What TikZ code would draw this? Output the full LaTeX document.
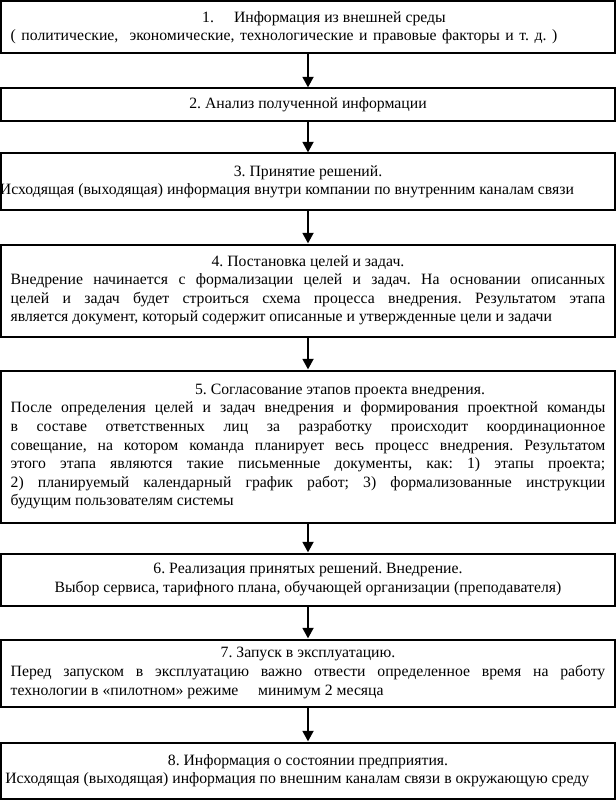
\documentclass[tikz,border=0pt]{standalone}
\usepackage{fontspec}
\setmainfont{Liberation Serif}
\usetikzlibrary{positioning,arrows.meta}

\frenchspacing
\tolerance=10000\relax
\hyphenpenalty=10000\relax

\tikzset{
  stage/.style={draw, rectangle, line width=1.5pt, minimum width=460pt,
    text width=446pt, inner xsep=2pt, inner ysep=1pt, align=justify,
    font=\fontsize{11.8}{13.9}\selectfont},
  flow/.style={-{Triangle[width=8pt,length=8pt]}, line width=2pt}
}

\begin{document}
\begin{tikzpicture}[x=0.75pt, y=-0.75pt]
        \useasboundingbox (0,0) rectangle (616,802);

        \node[stage, minimum height=39pt, anchor=north] (s1) at (308,0.5) {%
            {\centering\hspace*{24pt}1.\hspace{15pt}Информация из внешней среды\par}
            \noindent\makebox[410pt][s]{( политические,\ \ экономические, технологические и правовые факторы и т. д. )}};
        \node[stage, minimum height=24.75pt, below=24.75pt of s1] (s2) {%
            {\centering 2. Анализ полученной информации\par}};
        \node[stage, minimum height=42.75pt, below=22.5pt of s2] (s3) {%
            {\centering 3. Принятие решений.\par}
            \noindent\hspace*{-8pt}Исходящая (выходящая) информация внутри компании по внутренним каналам связи};
        \node[stage, minimum height=69pt, below=24pt of s3] (s4) {%
            {\centering 4. Постановка целей и задач.\par}
            Внедрение начинается с формализации целей и задач. На основании описанных\linebreak
            целей и задач будет строиться схема процесса внедрения. Результатом этапа\linebreak
            является документ, который содержит описанные и утвержденные цели и задачи};
        \node[stage, minimum height=114pt, below=24pt of s4] (s5) {%
            {\centering\hspace*{48pt}5. Согласование этапов проекта внедрения.\par}
            После определения целей и задач внедрения и формирования проектной команды\linebreak
            в составе ответственных лиц за разработку происходит координационное\linebreak
            совещание, на котором команда планирует весь процесс внедрения. Результатом\linebreak
            этого этапа являются такие письменные документы, как: 1) этапы проекта;\linebreak
            2) планируемый календарный график работ; 3) формализованные инструкции\linebreak
            будущим пользователям системы};
        \node[stage, minimum height=39pt, below=21.75pt of s5] (s6) {%
            {\centering 6. Реализация принятых решений. Внедрение.\par
            Выбор сервиса, тарифного плана, обучающей организации (преподавателя)\par}};
        \node[stage, minimum height=50.25pt, below=24pt of s6] (s7) {%
            {\centering 7. Запуск в эксплуатацию.\par}
            Перед запуском в эксплуатацию важно отвести определенное время на работу\linebreak
            технологии в «пилотном» режиме \quad минимум 2 месяца};
        \node[stage, minimum height=42pt, below=25.5pt of s7] (s8) {%
            {\centering 8. Информация о состоянии предприятия.\par}
            \noindent\hspace*{-4pt}Исходящая (выходящая) информация по внешним каналам связи в окружающую среду};

        % arrows between stages
        \foreach \a/\b in {s1/s2, s2/s3, s3/s4, s4/s5, s5/s6, s6/s7, s7/s8}
            \draw[flow] (\a) -- (\b);
\end{tikzpicture}
\end{document}
